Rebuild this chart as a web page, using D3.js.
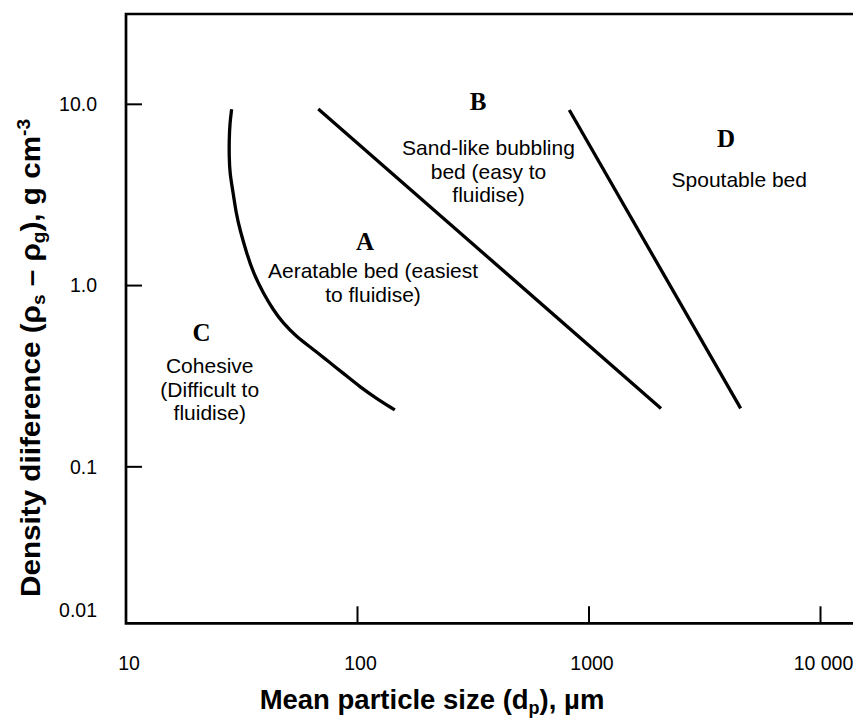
<!DOCTYPE html>
<html>
<head>
<meta charset="utf-8">
<script src="https://cdn.jsdelivr.net/npm/d3@7/dist/d3.min.js"></script>
<style>
  html, body { margin: 0; padding: 0; background: #fff; }
  svg { display: block; }
  text { font-family: "Liberation Sans", Arial, sans-serif; fill: #000; }
</style>
</head>
<body>
<svg id="chart" width="853" height="718"></svg>
<script>
// ---- data ----
const xTickValues = [10, 100, 1000, 10000];
const xTickLabels = ["10", "100", "1000", "10 000"];
const yTickValues = [10, 1, 0.1, 0.01];
const yTickLabels = ["10.0", "1.0", "0.1", "0.01"];

// boundary C / A (curved)
const boundaryCA_size = [28.6, 28.1, 27.9, 27.9, 28.1, 28.9, 29.9, 31.1, 33.2, 35.5, 39.2, 43.3, 47.8, 54.6, 62.3, 73.6, 86.9, 102.5, 121, 145];
const boundaryCA_dens = [9.39, 7.86, 6.35, 5.14, 4.16, 3.37, 2.50, 2.02, 1.51, 1.17, 0.906, 0.733, 0.619, 0.522, 0.460, 0.388, 0.328, 0.276, 0.238, 0.206];
// boundary A / B (straight)
const boundaryAB_size = [67.7, 2047];
const boundaryAB_dens = [9.42, 0.21];
// boundary B / D (straight)
const boundaryBD_size = [822, 4520];
const boundaryBD_dens = [9.3, 0.21];

// region letters
const regionLetters = ["A", "B", "C", "D"];
const regionLetter_size = [107.8, 332, 21.2, 3908];
const regionLetter_dens = [1.57, 9.30, 0.494, 5.83];
// region descriptions
const regionText = [
  ["Aeratable bed (easiest", "to fluidise)"],
  ["Sand-like bubbling", "bed (easy to", "fluidise)"],
  ["Cohesive", "(Difficult to", "fluidise)"],
  ["Spoutable bed"]
];
const regionText_size = [116.7, 368, 23.0, 4457];
const regionText_dens = [1.096, 5.25, 0.328, 3.48];

(function () {
  const svg = d3.select("#chart");
  const pLeft = 126, pTop = 14, pBottom = 623.3;
  const decadeX = 231.5;
  const xMax = 15000;
  const pRight = pLeft + decadeX * (Math.log10(xMax) - 1);

  const x = d3.scaleLog().domain([10, xMax]).range([pLeft, pRight]);
  const y = d3.scaleLog().domain([0.0137, 31.5]).range([pBottom, pTop]).clamp(true);

  svg.append("rect").attr("width", 853).attr("height", 718).attr("fill", "#fff");

  // frame (left, top, bottom)
  svg.append("path")
    .attr("d", `M${pRight},${pTop} H${pLeft} V${pBottom} H${pRight}`)
    .attr("fill", "none").attr("stroke", "#000").attr("stroke-width", 2.7)
    .attr("stroke-linejoin", "miter");

  // x ticks (inward)
  const xt = xTickValues.map((v, i) => ({ v, label: xTickLabels[i] }));
  svg.selectAll(".xtick").data(xt.filter(d => d.v > 10)).enter().append("line")
    .attr("x1", d => x(d.v)).attr("x2", d => x(d.v))
    .attr("y1", pBottom).attr("y2", pBottom - 17)
    .attr("stroke", "#000").attr("stroke-width", 2);
  svg.selectAll(".xlab").data(xt).enter().append("text")
    .attr("x", d => x(d.v) + 3).attr("y", 670)
    .attr("text-anchor", "middle").attr("font-size", 19.5)
    .text(d => d.label);

  // y ticks (inward)
  const yt = yTickValues.map((v, i) => ({ v, label: yTickLabels[i] }));
  svg.selectAll(".ytick").data(yt.filter(d => y(d.v) < pBottom - 1)).enter().append("line")
    .attr("x1", pLeft).attr("x2", pLeft + 16)
    .attr("y1", d => y(d.v)).attr("y2", d => y(d.v))
    .attr("stroke", "#000").attr("stroke-width", 2);
  svg.selectAll(".ylab").data(yt).enter().append("text")
    .attr("x", 97)
    .attr("y", d => (y(d.v) >= pBottom - 1 ? y(d.v) - 13 : y(d.v)))
    .attr("dy", "0.35em")
    .attr("text-anchor", "end").attr("font-size", 19.5)
    .text(d => d.label);

  // boundary lines
  const line = d3.line().x(d => x(d[0])).y(d => y(d[1]));
  const curveLine = d3.line().x(d => x(d[0])).y(d => y(d[1])).curve(d3.curveBasis);
  const zip = (a, b) => a.map((v, i) => [v, b[i]]);

  svg.append("path").datum(zip(boundaryCA_size, boundaryCA_dens))
    .attr("d", curveLine).attr("fill", "none").attr("stroke", "#000").attr("stroke-width", 3.3);
  svg.append("path").datum(zip(boundaryAB_size, boundaryAB_dens))
    .attr("d", line).attr("fill", "none").attr("stroke", "#000").attr("stroke-width", 3.3);
  svg.append("path").datum(zip(boundaryBD_size, boundaryBD_dens))
    .attr("d", line).attr("fill", "none").attr("stroke", "#000").attr("stroke-width", 3.3);

  // region letters
  svg.selectAll(".letter").data(regionLetters).enter().append("text")
    .attr("x", (d, i) => x(regionLetter_size[i]))
    .attr("y", (d, i) => y(regionLetter_dens[i]))
    .attr("text-anchor", "middle")
    .style("font-family", "'Liberation Serif', 'Times New Roman', serif")
    .attr("font-weight", "bold").attr("font-size", 25)
    .text(d => d);

  // region descriptions
  regionText.forEach((lines, i) => {
    const t = svg.append("text")
      .attr("x", x(regionText_size[i]))
      .attr("y", y(regionText_dens[i]))
      .attr("text-anchor", "middle").attr("font-size", 21);
    lines.forEach((ln, j) => {
      t.append("tspan").attr("x", x(regionText_size[i])).attr("dy", j === 0 ? 0 : 23.5).text(ln);
    });
  });

  // x axis title
  const xt2 = svg.append("text").attr("x", 432).attr("y", 709)
    .attr("text-anchor", "middle").attr("font-weight", "bold").attr("font-size", 27.5);
  xt2.append("tspan").text("Mean particle size (d");
  xt2.append("tspan").attr("font-size", 18).attr("baseline-shift", "-25%").text("p");
  xt2.append("tspan").text("), µm");

  // y axis title
  const yt2 = svg.append("text")
    .attr("transform", "translate(40,358) rotate(-90)")
    .attr("text-anchor", "middle").attr("font-weight", "bold").attr("font-size", 28)
    .attr("textLength", 478).attr("lengthAdjust", "spacingAndGlyphs");
  yt2.append("tspan").text("Density diiference (ρ");
  yt2.append("tspan").attr("font-size", 18).attr("baseline-shift", "-25%").text("s");
  yt2.append("tspan").text(" – ρ");
  yt2.append("tspan").attr("font-size", 18).attr("baseline-shift", "-25%").text("g");
  yt2.append("tspan").text("), g cm");
  yt2.append("tspan").attr("font-size", 18).attr("baseline-shift", "super").text("-3");
})();
</script>
</body>
</html>
